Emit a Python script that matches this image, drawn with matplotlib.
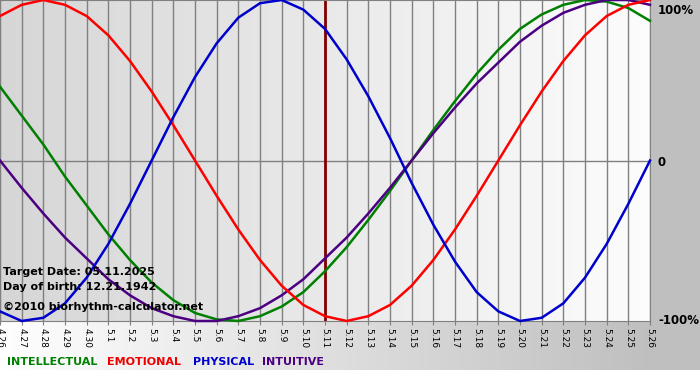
import numpy as np
import matplotlib
matplotlib.use('Agg')
from matplotlib import pyplot as plt

dates = ['4.26', '4.27', '4.28', '4.29', '4.30'] + [f'5.{d}' for d in range(1, 27)]
target_idx = 15  # 5.11

physical = [-0.94, -1.00, -0.98, -0.89, -0.73, -0.52, -0.27, 0.00, 0.27, 0.52, 0.73,
            0.89, 0.98, 1.00, 0.94, 0.82, 0.63, 0.40, 0.14, -0.14, -0.40, -0.63,
            -0.82, -0.94, -1.00, -0.98, -0.89, -0.73, -0.52, -0.27, 0.00]
emotional = [0.90, 0.97, 1.00, 0.97, 0.90, 0.78, 0.62, 0.43, 0.22, 0.00, -0.22,
             -0.43, -0.62, -0.78, -0.90, -0.97, -1.00, -0.97, -0.90, -0.78, -0.62, -0.43,
             -0.22, 0.00, 0.22, 0.43, 0.62, 0.78, 0.90, 0.97, 1.00]
intellectual = [0.46, 0.28, 0.10, -0.10, -0.28, -0.46, -0.62, -0.76, -0.87, -0.95, -0.99,
                -1.00, -0.97, -0.91, -0.82, -0.69, -0.54, -0.37, -0.19, 0.00, 0.19, 0.37,
                0.54, 0.69, 0.82, 0.91, 0.97, 1.00, 0.99, 0.95, 0.87]
intuitive = [0.00, -0.17, -0.33, -0.48, -0.61, -0.74, -0.84, -0.92, -0.97, -1.00, -1.00,
             -0.97, -0.92, -0.84, -0.74, -0.61, -0.48, -0.33, -0.17, 0.00, 0.17, 0.33,
             0.48, 0.61, 0.74, 0.84, 0.92, 0.97, 1.00, 1.00, 0.97]

x = np.arange(len(dates))

fig = plt.figure(figsize=(7, 3.8), dpi=100)

# figure background: white -> gray gradient behind labels and legend, white strip at the bottom
bg = fig.add_axes([0, 0, 1, 1], zorder=-10)
bg.set_axis_off()
W, H = 700, 380
img = np.ones((H, W, 3))
xs = np.arange(W)
shade = np.clip(1 - 0.25 * xs / 650, 0.75, 1)
img[:370, :, :] = shade[None, :, None]
bg.imshow(img, extent=[0, 1, 0, 1], aspect='auto', interpolation='nearest')
bg.set_xlim(0, 1)
bg.set_ylim(0, 1)

ax = fig.add_axes([0, 1 - 321 / 380, 650 / 700, 321 / 380])
ax.set_xlim(0, len(dates) - 1)
ax.set_ylim(-1, 1)
agrad = np.linspace(0.84, 0.99, 256)[None, :]
ax.imshow(np.dstack([agrad] * 3), extent=[0, len(dates) - 1, -1, 1],
          aspect='auto', zorder=0, interpolation='bilinear')

for i in x:
    ax.axvline(i, color='#808080', lw=1, zorder=1)
ax.axhline(0, color='#808080', lw=1, zorder=1)
ax.axvline(target_idx, color='#800000', lw=2, zorder=2)

ax.plot(x, intellectual, color='#008000', lw=1.8, zorder=3, clip_on=False)
ax.plot(x, intuitive, color='#4b0082', lw=1.8, zorder=3, clip_on=False)
ax.plot(x, emotional, color='#ff0000', lw=1.8, zorder=3, clip_on=False)
ax.plot(x, physical, color='#0000cc', lw=1.8, zorder=3, clip_on=False)

for s in ax.spines.values():
    s.set_color('#808080')
ax.set_xticks(x)
ax.set_xticklabels(dates, rotation=270, fontsize=6.5)
ax.tick_params(axis='x', length=3, color='#808080', pad=2)
ax.set_yticks([])

ax.text(0.004, 1 - 272 / 321, 'Target Date: 05.11.2025', transform=ax.transAxes,
        fontsize=8, fontweight='bold', va='center', zorder=5)
ax.text(0.004, 1 - 287 / 321, 'Day of birth: 12.21.1942', transform=ax.transAxes,
        fontsize=8, fontweight='bold', va='center', zorder=5)
ax.text(0.004, 1 - 307 / 321, '\u00a92010 biorhythm-calculator.net', transform=ax.transAxes,
        fontsize=8, fontweight='bold', va='center', zorder=5)

fig.text(658 / 700, 1 - 10 / 380, '100%', fontsize=8.5, fontweight='bold', va='center')
fig.text(658 / 700, 1 - 162 / 380, '0', fontsize=8.5, fontweight='bold', va='center')
fig.text(658 / 700, 1 - 321 / 380, '-100%', fontsize=8.5, fontweight='bold', va='center')

legend = [('INTELLECTUAL', 7, '#008000'), ('EMOTIONAL', 107, '#ee0000'),
          ('PHYSICAL', 193, '#0000cc'), ('INTUITIVE', 262, '#4b0082')]
for name, px, c in legend:
    fig.text(px / 700, 1 - 362 / 380, name, fontsize=8, fontweight='bold',
             color=c, va='center')

fig.savefig('out.png', dpi=100)
